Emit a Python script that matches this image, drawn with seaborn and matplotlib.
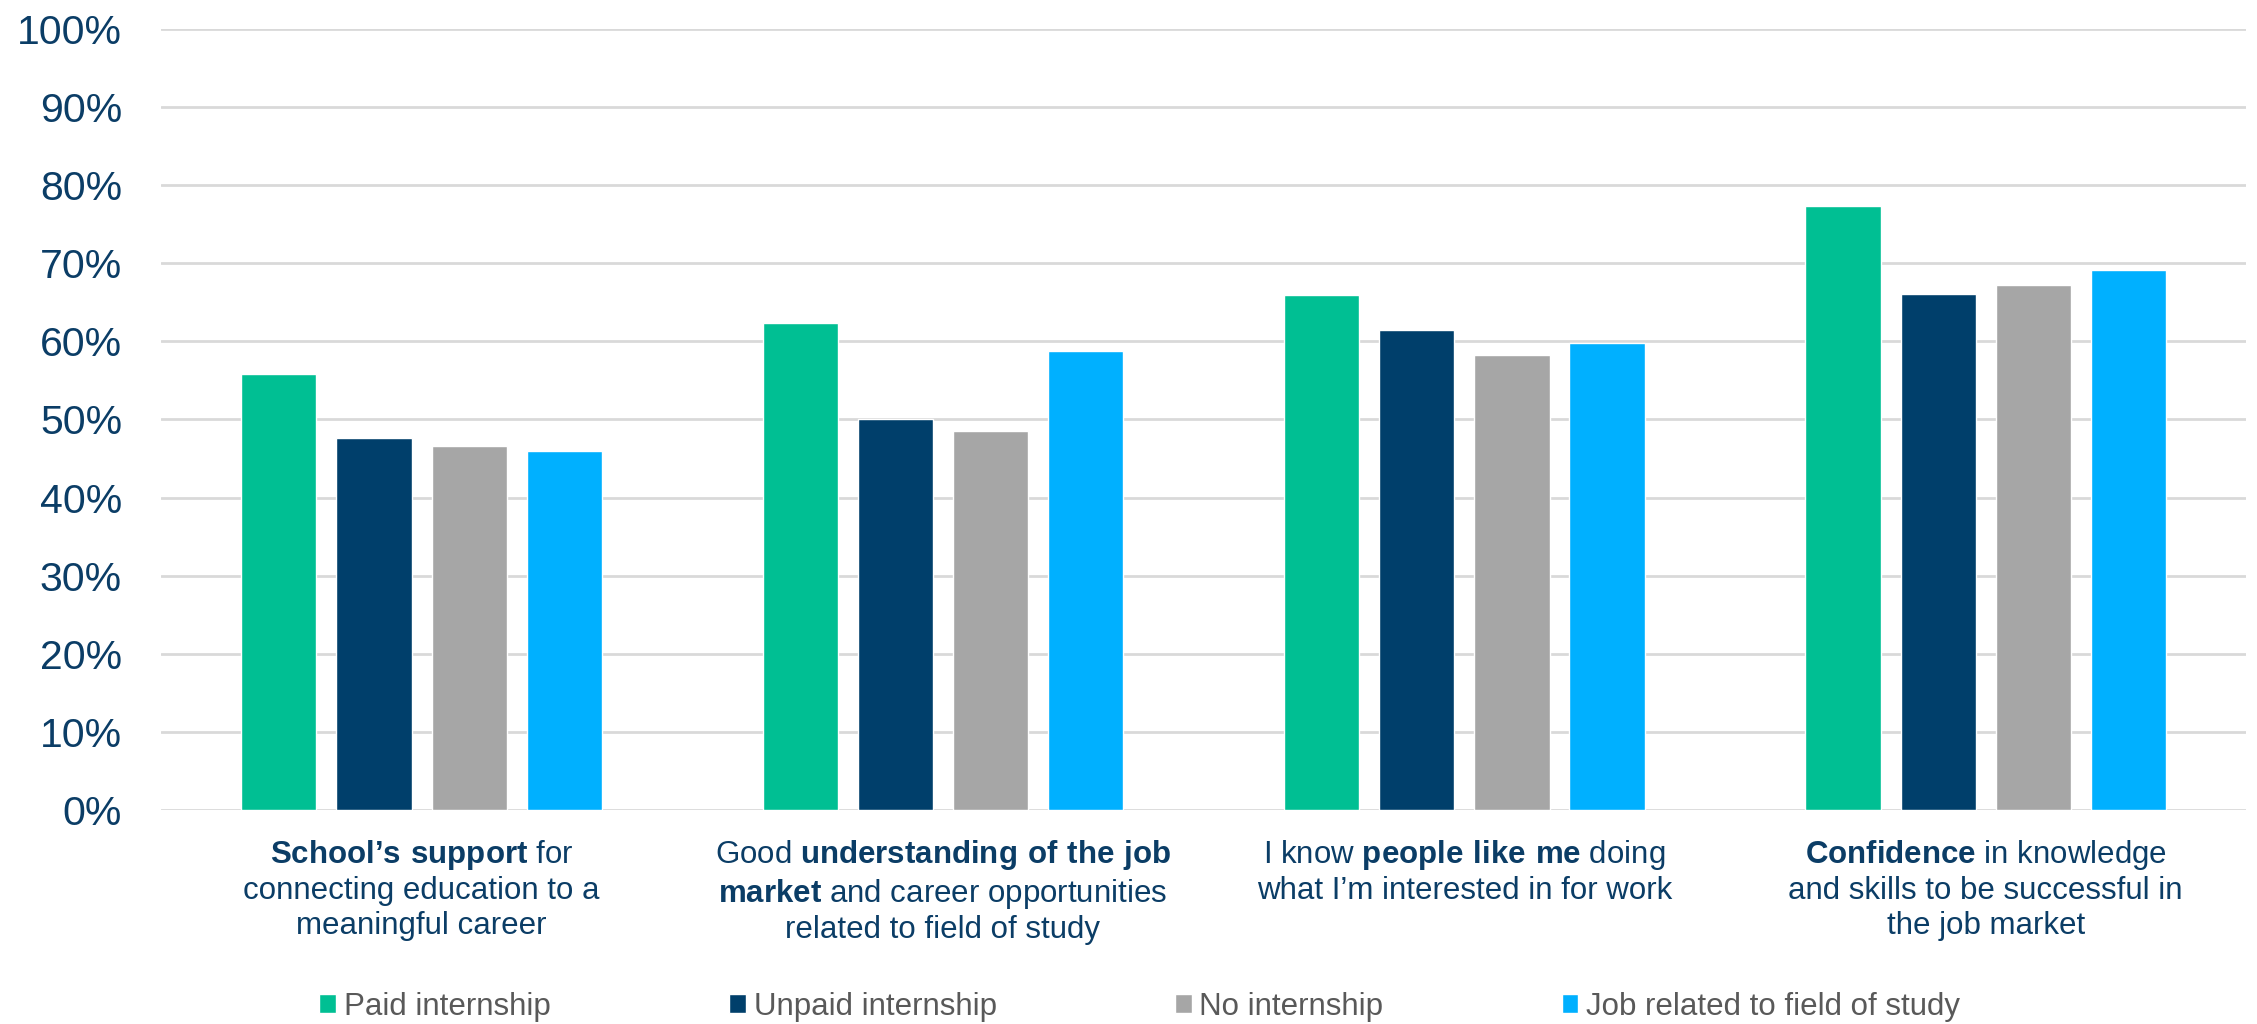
import pandas as pd
import numpy as np
import matplotlib
matplotlib.use("Agg")
import matplotlib.pyplot as plt
import seaborn as sns
from matplotlib.patches import Patch
from matplotlib.ticker import FuncFormatter

# data (percent)
categories = ["School support", "Job market", "People like me", "Confidence"]
series = ["Paid internship", "Unpaid internship", "No internship", "Job related to field of study"]
paid = [55.8, 62.4, 65.9, 77.3]
unpaid = [47.6, 50.0, 61.5, 66.1]
no_intern = [46.6, 48.5, 58.2, 67.2]
job_related = [46.0, 58.8, 59.8, 69.1]

tick_labels = [
    r"$\mathbf{School’s\ support}$ for" + "\nconnecting education to a\nmeaningful career",
    r"Good $\mathbf{understanding\ of\ the\ job}$" + "\n" + r"$\mathbf{market}$ and career opportunities" + "\nrelated to field of study",
    r"I know $\mathbf{people\ like\ me}$ doing" + "\nwhat I’m interested in for work",
    r"$\mathbf{Confidence}$ in knowledge" + "\nand skills to be successful in\nthe job market",
]
colors = ["#00BF93", "#003F6B", "#A6A6A6", "#00B0FF"]
navy = "#0B3D66"

df = pd.DataFrame({
    "category": np.repeat(categories, len(series)),
    "series": series * len(categories),
    "value": np.array([paid, unpaid, no_intern, job_related]).T.ravel(),
})

sns.set_style("white")
plt.rcParams["font.family"] = ["Liberation Sans", "DejaVu Sans"]
plt.rcParams["mathtext.fontset"] = "custom"
plt.rcParams["mathtext.rm"] = "Liberation Sans"
plt.rcParams["mathtext.bf"] = "Liberation Sans:bold"

fig = plt.figure(figsize=(22.57, 10.24), dpi=100)
ax = fig.add_axes([0.0713, 0.209, 0.924, 0.7627])

sns.barplot(data=df, x="category", y="value", hue="series", hue_order=series,
            palette=colors, width=0.73, gap=0.21, saturation=1, legend=False, ax=ax)

ax.set_ylim(0, 100)
ax.set_yticks(range(0, 101, 10))
ax.yaxis.set_major_formatter(FuncFormatter(lambda v, p: f"{v:.0f}%"))
ax.grid(axis="y", color="#D9D9D9", linewidth=2)
ax.set_axisbelow(True)
for s in ax.spines.values():
    s.set_visible(False)
ax.set_xlabel("")
ax.set_ylabel("")
ax.set_xticks(range(len(categories)))
ax.set_xticklabels(tick_labels, fontsize=22.5, color=navy, linespacing=1.2)
ax.tick_params(axis="x", length=0, pad=20)
ax.tick_params(axis="y", length=0, pad=28, labelsize=29.5, labelcolor=navy)

handles = [Patch(facecolor=c, label=s) for c, s in zip(colors, series)]
leg = fig.legend(handles=handles, loc="center", bbox_to_anchor=(0.505, 0.017), ncol=4,
                 frameon=False, fontsize=22.5, handlelength=0.54, handleheight=0.55,
                 handletextpad=0.25, columnspacing=5.7, borderpad=0, borderaxespad=0)
for t in leg.get_texts():
    t.set_color("#595959")

fig.savefig("out.png", dpi=100)
